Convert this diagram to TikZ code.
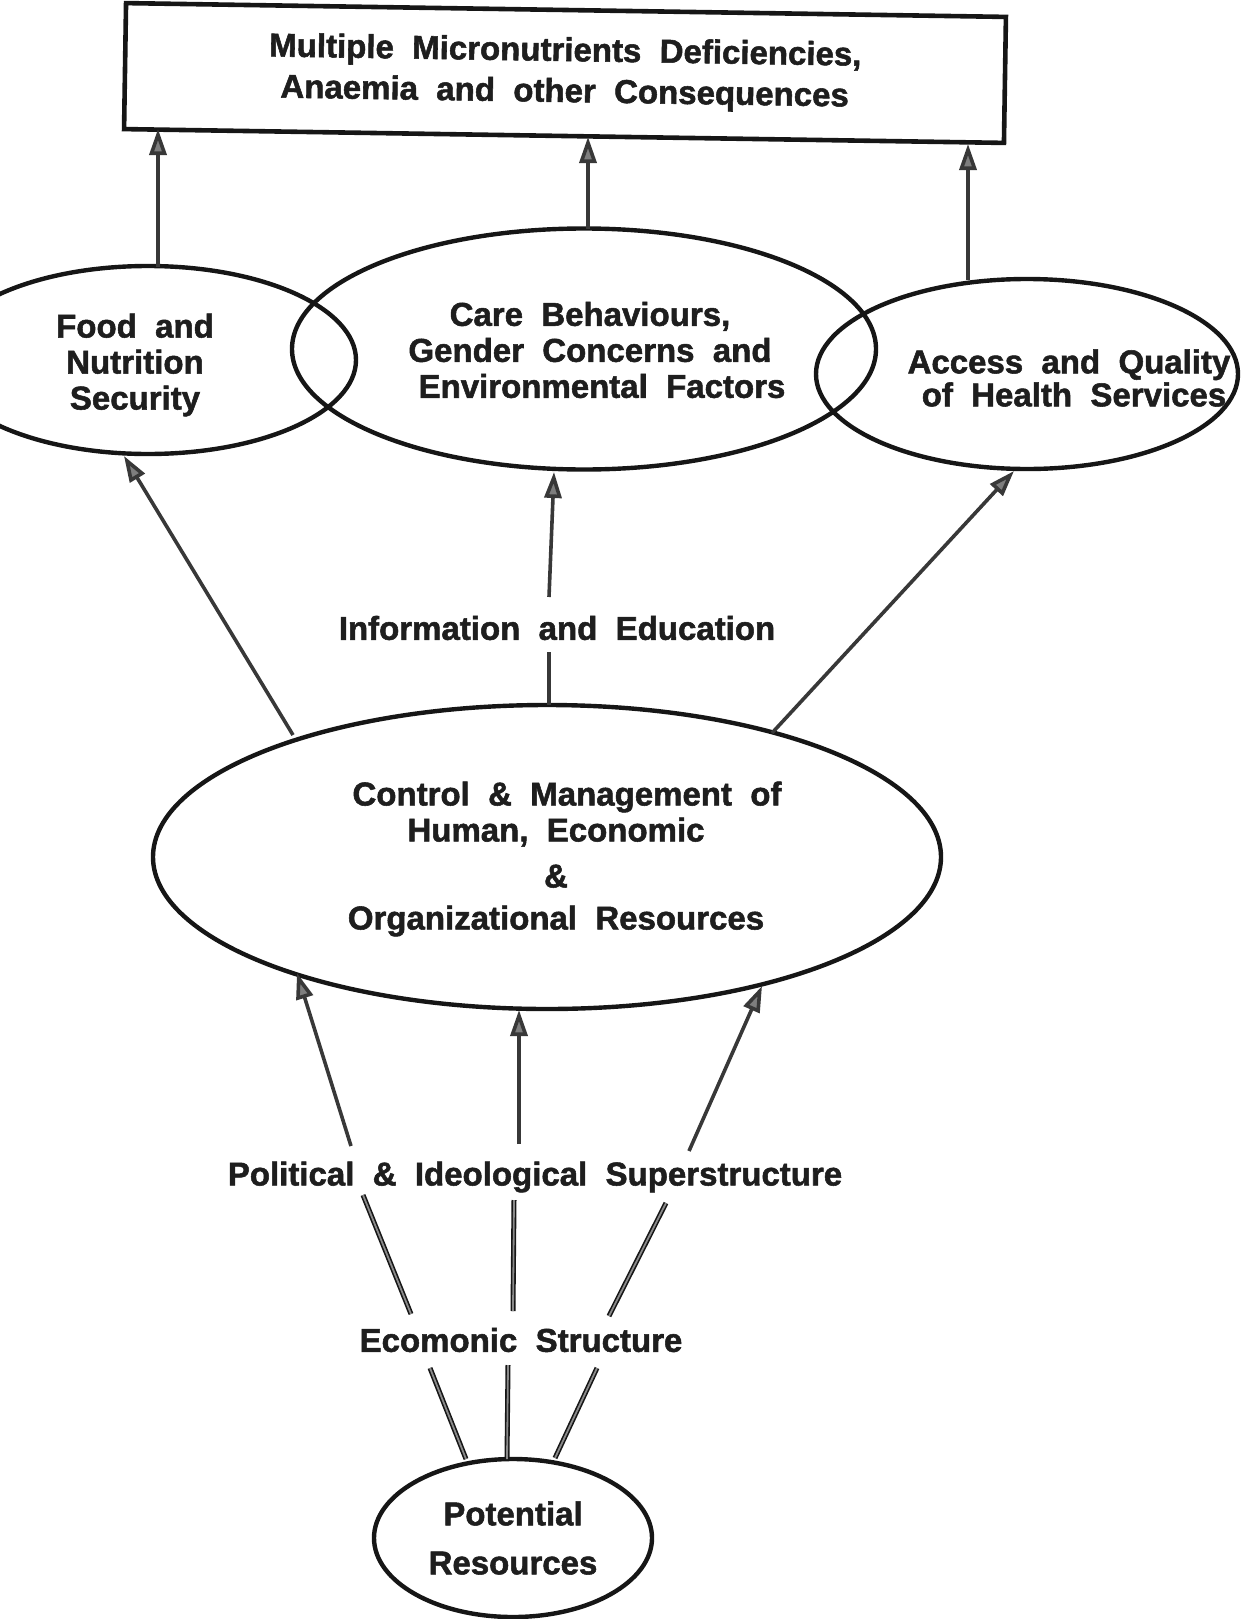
\documentclass[tikz,border=0pt]{standalone}
\usepackage{fontspec}
\setmainfont{Liberation Sans}[WordSpace=2, BoldFeatures={FakeBold=1.6}]
\usetikzlibrary{arrows.meta,shapes.geometric}

\definecolor{ink}{HTML}{161616}
\definecolor{txt}{HTML}{1E1E1E}
\definecolor{wire}{HTML}{383838}
\definecolor{headfill}{HTML}{7E7E7E}
\definecolor{core}{HTML}{8A8A8A}

\begin{document}
\begin{tikzpicture}[x=1pt,y=-1pt,
  every node/.style={font=\fontsize{33}{36}\selectfont\bfseries, text=txt},
  oval/.style={ellipse, draw=ink, line width=4.4pt, inner sep=0pt},
  caption/.style={inner sep=3pt, align=center},
  box/.style={rectangle, draw=ink, line width=4.6pt, align=center},
  up/.style={draw=wire, line width=3.6pt, -{Triangle[length=26pt,width=17pt,fill=headfill]}},
  link/.style={draw=ink, line width=1.6pt, double=core, double distance=1.8pt}
]
\useasboundingbox (0,0) rectangle (1247,1619);

% outcome box
\node[box, minimum width=880pt, minimum height=126pt, rotate=-0.9] (top) at (565,73)
  {Multiple Micronutrients Deficiencies,\\[5pt]Anaemia and other Consequences};

% underlying causes
\node[oval, minimum width=416pt, minimum height=188pt,
  label={[caption, xshift=-13pt, yshift=-5pt]center:{Food and\\Nutrition\\Security}}] (food) at (148,360) {};
\node[oval, minimum width=584pt, minimum height=241pt,
  label={[caption, xshift=6pt, yshift=-1pt]center:{Care Behaviours,\\Gender Concerns and\\\hspace*{24pt}Environmental Factors}}] (care) at (584,349) {};
\node[oval, minimum width=422pt, minimum height=190pt,
  label={[caption, xshift=42pt, yshift=-4pt]center:{Access and Quality\\[-3pt]\hspace*{10pt}of Health Services}}] (access) at (1027,374) {};

% basic causes
\node[oval, minimum width=788pt, minimum height=304pt,
  label={[caption, xshift=9pt, yshift=-2pt]center:{\hspace*{22pt}Control \& Management of\\Human, Economic\\[10pt]\&\hspace*{30pt}\\[6pt]Organizational Resources}}] (ctrl) at (547,857) {};
\node[oval, minimum width=278pt, minimum height=158pt,
  label={[caption, yshift=0pt]center:{Potential\\[13pt]Resources}}] (pot) at (513,1538) {};

% free-standing labels
\node[caption] (info) at (557,628) {Information and Education};
\node[caption] (pol) at (535,1177) {Political \& Ideological Superstructure};
\node[caption] (eco) at (521,1340) {Ecomonic Structure};

% arrow end points
\coordinate (f1) at (158,267);   \coordinate (f2) at (158,129);
\coordinate (c1) at (588,229);   \coordinate (c2) at (588,137);
\coordinate (a1) at (968,280);   \coordinate (a2) at (968,144);

\coordinate (cf1) at (293,735);  \coordinate (cf2) at (124,456);
\coordinate (ci1) at (549,705);  \coordinate (ci2) at (549,652);
\coordinate (ic1) at (549,597);  \coordinate (ic2) at (554,472);
\coordinate (ca1) at (772,733);  \coordinate (ca2) at (1014,471);

\coordinate (pc1) at (351,1146); \coordinate (pc2) at (297,973);
\coordinate (pc3) at (519,1144); \coordinate (pc4) at (519,1010);
\coordinate (pc5) at (689,1151); \coordinate (pc6) at (762,986);

\coordinate (pe1) at (363,1195); \coordinate (pe2) at (411,1314);
\coordinate (pe3) at (514,1200); \coordinate (pe4) at (513,1311);
\coordinate (pe5) at (666,1203); \coordinate (pe6) at (609,1316);

\coordinate (ep1) at (430,1368); \coordinate (ep2) at (466,1459);
\coordinate (ep3) at (508,1365); \coordinate (ep4) at (507,1459);
\coordinate (ep5) at (597,1368); \coordinate (ep6) at (555,1458);

% underlying causes -> outcome
\draw[up] (f1) -- (f2);
\draw[up] (c1) -- (c2);
\draw[up] (a1) -- (a2);

% basic causes -> underlying causes
\draw[up] (cf1) -- (cf2);
\draw[draw=wire, line width=3.6pt] (ci1) -- (ci2);
\draw[up] (ic1) -- (ic2);
\draw[up] (ca1) -- (ca2);

% superstructure -> control of resources
\draw[up] (pc1) -- (pc2);
\draw[up] (pc3) -- (pc4);
\draw[up] (pc5) -- (pc6);

% structure links
\draw[link] (pe1) -- (pe2);
\draw[link] (pe3) -- (pe4);
\draw[link] (pe5) -- (pe6);
\draw[link] (ep1) -- (ep2);
\draw[link] (ep3) -- (ep4);
\draw[link] (ep5) -- (ep6);
\end{tikzpicture}
\end{document}
